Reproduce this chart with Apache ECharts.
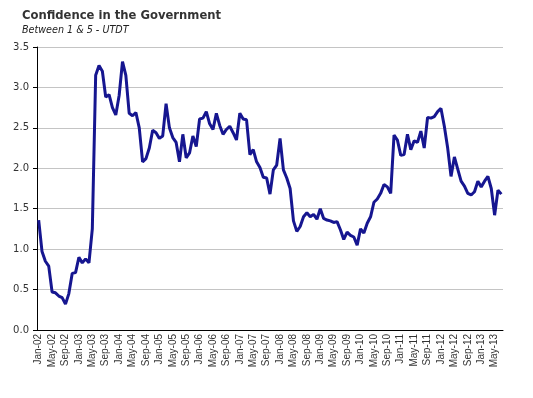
<!DOCTYPE html>
<html>
<head>
<meta charset="utf-8">
<script src="https://cdn.jsdelivr.net/npm/echarts@6/dist/echarts.min.js"></script>
<style>
  html, body { margin: 0; padding: 0; background: #fff; }
  #main { width: 533px; height: 398px; }
</style>
</head>
<body>
<div id="main"></div>
<script>
// monthly index, Jan-02 .. Jul-13
var monthNames = ['Jan','Feb','Mar','Apr','May','Jun','Jul','Aug','Sep','Oct','Nov','Dec'];
var firstYear = 2002, lastYear = 2013, lastMonth = 6;

var confidence = [
  1.36, 0.97, 0.85, 0.79, 0.47, 0.46, 0.42, 0.40, 0.32, 0.45, 0.70, 0.71,
  0.90, 0.83, 0.88, 0.83, 1.25, 3.15, 3.27, 3.20, 2.88, 2.91, 2.75, 2.66,
  2.90, 3.32, 3.15, 2.68, 2.65, 2.69, 2.50, 2.08, 2.12, 2.25, 2.47, 2.44,
  2.37, 2.40, 2.80, 2.50, 2.38, 2.32, 2.08, 2.42, 2.13, 2.19, 2.40, 2.27,
  2.61, 2.62, 2.70, 2.55, 2.48, 2.68, 2.53, 2.42, 2.48, 2.52, 2.44, 2.35,
  2.68, 2.61, 2.60, 2.17, 2.23, 2.08, 2.01, 1.89, 1.88, 1.68, 1.98, 2.04,
  2.37, 1.98, 1.88, 1.75, 1.35, 1.22, 1.28, 1.40, 1.45, 1.40, 1.43, 1.37,
  1.50, 1.38, 1.36, 1.35, 1.33, 1.34, 1.24, 1.12, 1.21, 1.17, 1.15, 1.05,
  1.25, 1.20, 1.32, 1.40, 1.58, 1.62, 1.69, 1.80, 1.77, 1.69, 2.41, 2.35,
  2.16, 2.17, 2.42, 2.23, 2.34, 2.32, 2.46, 2.25, 2.63, 2.62, 2.64, 2.70,
  2.74, 2.52, 2.25, 1.90, 2.14, 1.99, 1.84, 1.78, 1.69, 1.67, 1.71, 1.84,
  1.77, 1.84, 1.90, 1.75, 1.42, 1.73, 1.68
];

var months = [];
for (var y = firstYear; y <= lastYear; y++) {
  for (var m = 0; m < 12; m++) {
    if (y === lastYear && m > lastMonth) break;
    months.push(monthNames[m] + '-' + String(y).slice(2));
  }
}

var myChart = echarts.init(document.getElementById('main'));

var option = {
  animation: false,
  title: {
    text: 'Confidence in the Government',
    subtext: 'Between 1 & 5 - UTDT',
    left: 17,
    top: 5,
    itemGap: 3,
    textStyle: {
      fontFamily: 'DejaVu Sans',
      fontWeight: 'bold',
      fontSize: 11.6,
      color: '#333'
    },
    subtextStyle: {
      fontFamily: 'DejaVu Sans',
      fontStyle: 'italic',
      fontSize: 9.6,
      color: '#222'
    }
  },
  grid: {
    left: 37,
    right: 30,
    top: 47,
    bottom: 68
  },
  xAxis: {
    type: 'category',
    data: months,
    boundaryGap: true,
    axisLine: { lineStyle: { color: '#000', width: 1 } },
    axisTick: { interval: 3, length: 4, lineStyle: { color: '#000' } },
    axisLabel: {
      interval: 3,
      rotate: 90,
      margin: 4,
      fontFamily: 'Liberation Sans',
      fontSize: 10,
      color: '#333'
    },
    splitLine: { show: false }
  },
  yAxis: {
    type: 'value',
    min: 0,
    max: 3.5,
    interval: 0.5,
    axisLine: { show: true, lineStyle: { color: '#000', width: 1 } },
    axisTick: { show: true, length: 4, lineStyle: { color: '#000' } },
    axisLabel: {
      margin: 8,
      fontFamily: 'DejaVu Sans',
      fontSize: 10,
      color: '#333',
      formatter: function (v) { return v.toFixed(1); }
    },
    splitLine: { lineStyle: { color: '#c4c4c4', width: 1 } }
  },
  series: [
    {
      name: 'Confidence',
      type: 'line',
      data: confidence,
      symbol: 'none',
      lineStyle: { color: '#161690', width: 3 },
      itemStyle: { color: '#161690' }
    }
  ]
};

myChart.setOption(option);
</script>
</body>
</html>
